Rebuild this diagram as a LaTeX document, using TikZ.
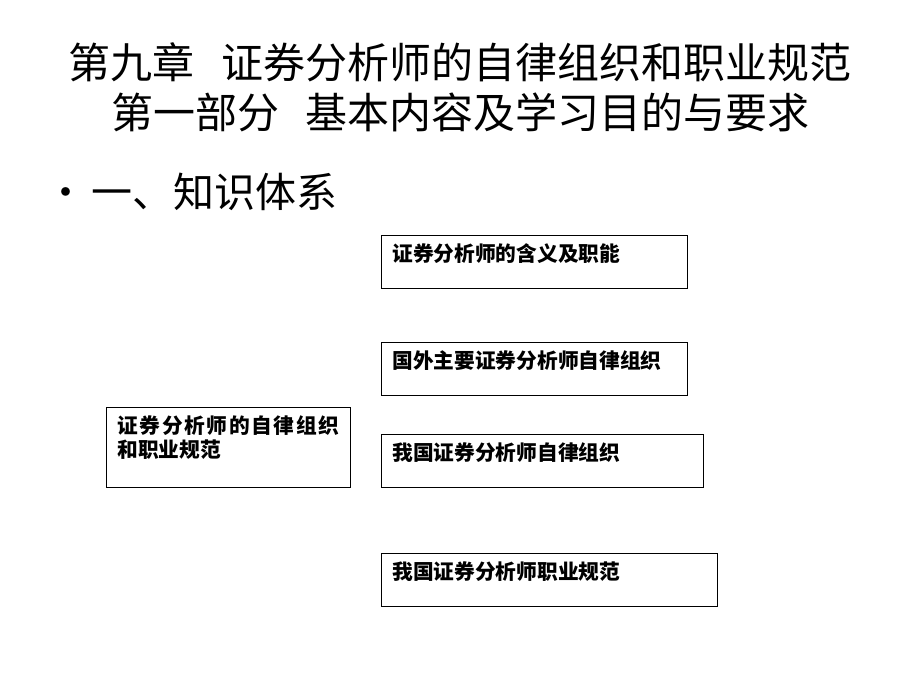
\documentclass[tikz,border=0pt]{standalone}
\usepackage{fontspec}
\setmainfont{Noto Sans CJK SC}
\usepackage{tikz}
\usetikzlibrary{positioning}
\tikzset{
  title/.style = {font=\fontsize{42}{50}\selectfont, align=center, inner sep=0pt},
  point/.style = {font=\fontsize{41}{48}\selectfont, anchor=west, inner sep=0pt},
  box/.style = {draw, line width=0.8pt, anchor=north west, align=left, font=\fontsize{20.7}{24}\selectfont\bfseries,
                inner xsep=11pt, inner ysep=9pt, text height=17pt, text depth=18pt},
}

\begin{document}
\begin{tikzpicture}[x=1pt, y=-1pt]
    \useasboundingbox[fill=white] (0,0) rectangle (920,690);
    % title
    \node[title] (chap) at (460,62) {第九章\hspace{28pt}证券分析师的自律组织和职业规范};
    \node[title] (part) at (460,112) {第一部分\hspace{26pt}基本内容及学习目的与要求};
    \node[point] (know) at (45,192) {•\hspace{5pt}一、知识体系};
    % boxes
    \node[box, text width=222pt, text depth=45pt] (main) at (106,407)
        {证\hfill 券\hfill 分\hfill 析\hfill 师\hfill 的\hfill 自\hfill 律\hfill 组\hfill 织\\和职业规范};
    \node[box, text width=284pt] (def) at (381,235) {证券分析师的含义及职能};
    \node[box, text width=284pt] (abroad) at (381,342) {国外主要证券分析师自律组织};
    \node[box, text width=300pt] (home) at (381,434) {我国证券分析师自律组织};
    \node[box, text width=314pt] (norm) at (381,553) {我国证券分析师职业规范};
\end{tikzpicture}
\end{document}
